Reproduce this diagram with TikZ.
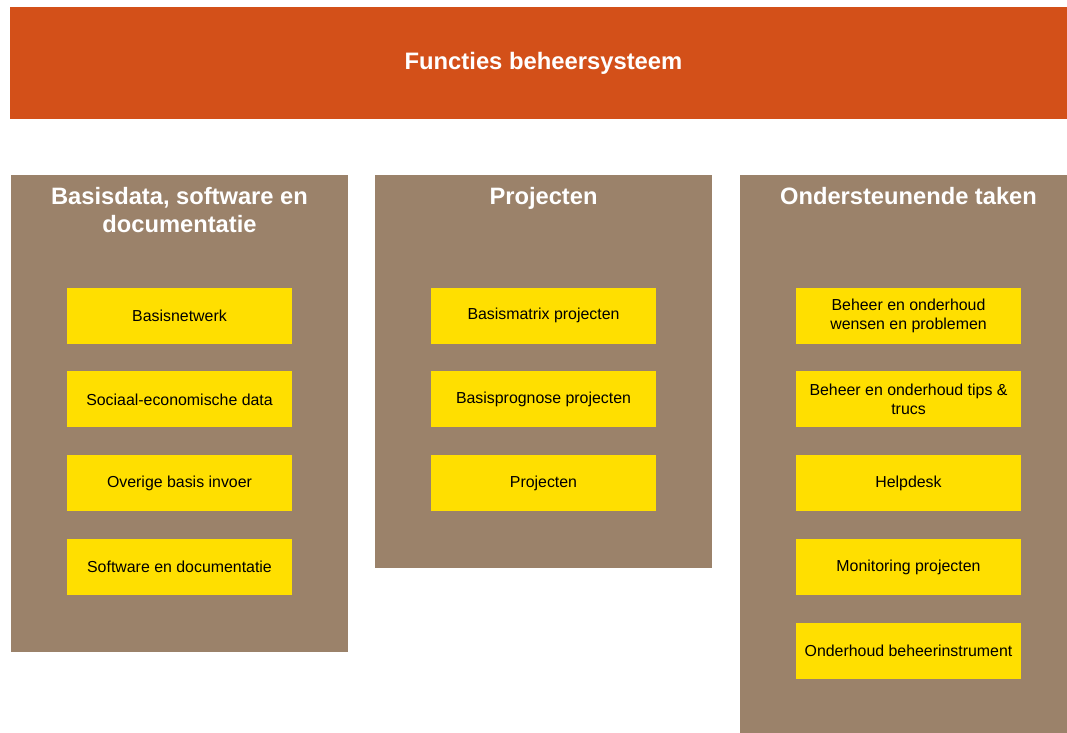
\documentclass[tikz,border=0pt]{standalone}
\usepackage{fontspec}
\setmainfont{Liberation Sans}
\usetikzlibrary{positioning}
\definecolor{barOrange}{HTML}{D35019}
\definecolor{colBrown}{HTML}{9B826A}
\definecolor{itemYellow}{HTML}{FFDF00}
\tikzset{
  header/.style   = {fill=barOrange, text=white, inner sep=0pt,
                     font=\fontsize{23.8}{28}\selectfont\bfseries,
                     minimum width=1067pt, minimum height=112pt},
  column/.style   = {fill=colBrown, anchor=north, inner sep=0pt,
                     minimum width=337pt},
  coltitle/.style = {text=white, anchor=base, align=center, inner sep=0pt,
                     font=\fontsize{23.7}{28}\selectfont\bfseries},
  item/.style     = {fill=itemYellow, inner sep=0pt, align=center,
                     minimum width=225pt, minimum height=56pt,
                     font=\fontsize{15.9}{19}\selectfont},
}

\begin{document}
\begin{tikzpicture}[x=1pt, y=-1pt, node distance=27.5pt]
  \useasboundingbox (0,0) rectangle (1067,732);
  \clip (0,0) rectangle (1067,732);

  \node[header] (head) at (543.5,63) {Functies beheersysteem};

  % the three columns
  \node[column, minimum height=477pt] (colData) at (179.5,175) {};
  \node[column, minimum height=393pt] (colProj) at (543.5,175) {};
  \node[column, minimum height=580pt] (colTask) at (908.5,175) {};

  % base anchor sits on the last line
  \node[coltitle] (ttlData) at (179.5,232) {Basisdata, software en\\documentatie};
  \node[coltitle] (ttlProj) at (543.5,204) {Projecten};
  \node[coltitle] (ttlTask) at (908.5,204) {Ondersteunende taken};

  % basisdata
  \node[item] (data1) at (179.5,315.5) {Basisnetwerk};
  \node[item, below=of data1] (data2) {Sociaal-economische data};
  \node[item, below=of data2] (data3) {Overige basis invoer};
  \node[item, below=of data3] (data4) {Software en documentatie};

  % projecten
  \node[item] (proj1) at (543.5,315.5) {Basismatrix projecten};
  \node[item, below=of proj1] (proj2) {Basisprognose projecten};
  \node[item, below=of proj2] (proj3) {Projecten};

  % ondersteunende taken
  \node[item] (task1) at (908.5,315.5) {Beheer en onderhoud\\wensen en problemen};
  \node[item, below=of task1] (task2) {Beheer en onderhoud tips \&\\trucs};
  \node[item, below=of task2] (task3) {Helpdesk};
  \node[item, below=of task3] (task4) {Monitoring projecten};
  \node[item, below=of task4] (task5) {Onderhoud beheerinstrument};
\end{tikzpicture}
\end{document}
